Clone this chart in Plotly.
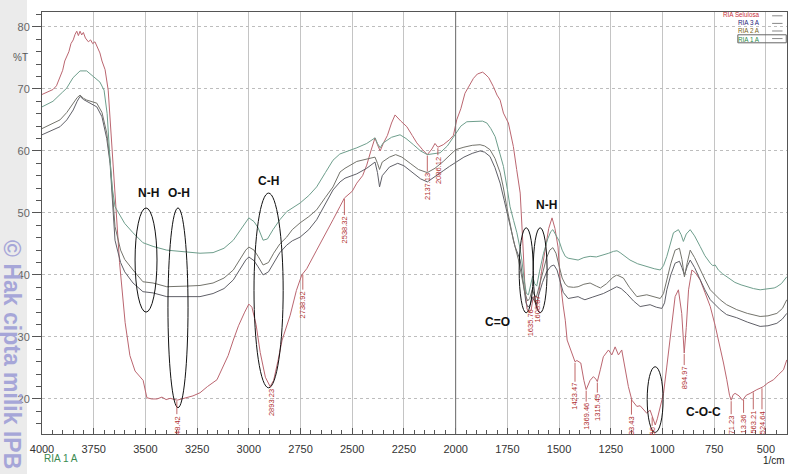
import numpy as np
import plotly.graph_objects as go

# FTIR spectra, wavenumber (1/cm) vs %T
wn_selulosa = [4000, 3970, 3947, 3930, 3913, 3900, 3890, 3881, 3870, 3860, 3849, 3840, 3832, 3824,
               3816, 3808, 3800, 3790, 3776, 3765, 3755, 3744, 3732, 3720, 3710, 3695, 3680, 3665,
               3650, 3625, 3598, 3575, 3550, 3525, 3511, 3493, 3470, 3444, 3420, 3400, 3380, 3347,
               3300, 3270, 3236, 3200, 3154, 3120, 3100, 3075, 3050, 3020, 3000, 2985, 2965, 2945,
               2920, 2897, 2880, 2860, 2839, 2800, 2770, 2744, 2720, 2672, 2630, 2593, 2560, 2538,
               2500, 2478, 2450, 2430, 2410, 2390, 2378, 2365, 2350, 2330, 2310, 2293, 2265, 2236,
               2210, 2188, 2160, 2137, 2115, 2100, 2086, 2060, 2030, 2011, 1995, 1975, 1955, 1935,
               1914, 1895, 1882, 1870, 1858, 1840, 1818, 1800, 1785, 1769, 1745, 1721, 1705, 1688,
               1675, 1665, 1655, 1645, 1635, 1625, 1615, 1608, 1598, 1585, 1565, 1550, 1534, 1520,
               1505, 1495, 1480, 1470, 1461, 1437, 1423, 1414, 1395, 1380, 1369, 1350, 1334, 1322,
               1315, 1300, 1286, 1261, 1245, 1229, 1213, 1197, 1181, 1165, 1148, 1124, 1108, 1092,
               1076, 1060, 1044, 1035, 1025, 1011, 995, 980, 963, 950, 939, 923, 907, 895, 885, 874,
               858, 840, 818, 795, 769, 745, 721, 705, 689, 676, 668, 658, 649, 630, 613, 595, 576,
               563, 544, 524, 512, 490, 463, 440, 415, 399]
t_selulosa = [69.1, 69.5, 69.9, 70.5, 72.0, 73.0, 74.5, 75.2, 76.0, 77.3, 77.9, 78.8, 79.3, 78.6,
              79.3, 78.7, 79.1, 78.2, 77.6, 77.9, 77.3, 77.6, 76.6, 75.8, 74.5, 73.1, 69.8, 62.0,
              54.0, 42.0, 32.3, 27.0, 24.5, 23.5, 23.0, 20.2, 20.0, 20.0, 20.3, 19.9, 20.1, 19.8,
              20.2, 20.5, 21.0, 22.0, 23.1, 25.5, 27.0, 29.5, 31.8, 34.0, 35.3, 34.8, 32.0, 27.5,
              23.5, 22.0, 23.0, 26.0, 29.5, 33.5, 37.5, 40.0, 41.0, 44.0, 46.5, 48.9, 51.0, 52.4,
              53.5, 54.8, 56.0, 57.7, 60.0, 62.1, 61.0, 60.0, 61.2, 62.5, 64.5, 65.8, 64.8, 63.9,
              62.5, 61.3, 60.2, 59.4, 60.3, 61.2, 60.6, 61.0, 61.8, 62.5, 65.0, 66.8, 69.3, 70.5,
              71.7, 72.4, 72.5, 72.7, 72.4, 71.8, 70.4, 69.0, 68.2, 66.1, 64.5, 60.7, 57.0, 53.2,
              45.0, 38.0, 34.5, 34.0, 34.3, 36.5, 35.5, 34.6, 37.0, 40.5, 44.5, 47.5, 49.2, 47.5,
              44.5, 39.2, 35.0, 32.7, 29.5, 27.4, 26.0, 26.2, 25.8, 23.0, 21.5, 23.0, 23.6, 23.2,
              22.8, 24.8, 26.8, 27.9, 27.1, 28.4, 27.1, 27.9, 25.2, 22.0, 19.8, 18.8, 18.9, 18.2,
              17.7, 18.2, 16.6, 15.8, 16.8, 18.5, 20.9, 25.0, 29.5, 33.0, 36.5, 37.6, 33.8, 27.4,
              31.5, 37.6, 40.8, 40.3, 39.2, 37.2, 34.9, 31.8, 28.4, 25.8, 23.1, 20.6, 19.8, 20.7,
              20.9, 20.5, 19.8, 20.6, 20.9, 21.2, 21.5, 21.8, 22.0, 22.6, 23.1, 23.9, 24.7, 26.3]

wn_ria1 = [4000, 3947, 3900, 3881, 3850, 3816, 3784, 3752, 3720, 3700, 3685, 3671, 3660, 3647, 3620,
           3600, 3560, 3512, 3463, 3397, 3300, 3236, 3173, 3120, 3075, 3040, 3015, 3000, 2975, 2955,
           2931, 2910, 2883, 2850, 2817, 2790, 2752, 2710, 2672, 2630, 2593, 2560, 2535, 2478, 2430,
           2390, 2378, 2365, 2350, 2310, 2269, 2240, 2204, 2170, 2137, 2110, 2075, 2040, 2000, 1975,
           1946, 1898, 1870, 1849, 1830, 1809, 1790, 1769, 1750, 1737, 1720, 1704, 1690, 1680, 1668,
           1658, 1648, 1638, 1628, 1618, 1608, 1595, 1575, 1555, 1540, 1530, 1515, 1500, 1485, 1470,
           1456, 1430, 1408, 1380, 1350, 1320, 1286, 1260, 1237, 1220, 1205, 1180, 1157, 1120, 1076,
           1040, 1011, 995, 979, 963, 947, 923, 910, 899, 885, 866, 845, 818, 795, 769, 757, 745,
           730, 710, 689, 650, 620, 592, 560, 528, 490, 460, 447, 425, 399]
t_ria1 = [67.1, 68.0, 69.5, 70.1, 71.8, 72.9, 72.9, 72.0, 71.1, 69.8, 66.0, 58.5, 54.0, 51.0, 49.3,
          48.3, 46.8, 45.2, 44.6, 44.0, 43.7, 43.5, 43.6, 44.3, 45.6, 47.3, 48.6, 49.2, 48.6, 47.6,
          45.6, 45.8, 47.3, 48.9, 50.2, 50.8, 51.6, 52.8, 54.2, 56.5, 58.5, 59.5, 59.8, 60.5, 61.2,
          62.1, 61.2, 60.5, 61.3, 62.2, 62.6, 62.0, 61.0, 60.0, 59.4, 59.5, 59.7, 60.8, 62.9, 64.0,
          64.7, 64.8, 64.8, 64.5, 63.6, 62.3, 60.2, 57.5, 53.8, 51.0, 48.8, 46.8, 44.5, 42.4, 39.0,
          37.0, 36.8, 38.5, 39.8, 38.6, 38.2, 40.5, 43.5, 45.8, 47.0, 47.3, 46.5, 45.5, 44.0, 43.0,
          42.7, 42.6, 42.4, 42.8, 43.0, 42.9, 43.2, 43.5, 43.8, 43.9, 43.6, 43.0, 42.4, 41.8, 41.3,
          41.0, 40.8, 41.5, 43.0, 45.0, 46.8, 47.3, 46.5, 45.4, 46.6, 47.3, 46.3, 44.6, 43.1, 41.9,
          41.5, 41.6, 40.8, 40.2, 39.7, 38.8, 38.4, 38.1, 37.8, 37.6, 37.7, 37.9, 38.1, 38.6, 39.7]

wn_ria2 = [4000, 3960, 3913, 3880, 3849, 3830, 3816, 3800, 3784, 3760, 3735, 3710, 3687, 3671, 3660,
           3647, 3620, 3600, 3560, 3512, 3463, 3397, 3300, 3236, 3173, 3120, 3075, 3040, 3015, 3000,
           2975, 2955, 2931, 2905, 2880, 2850, 2817, 2790, 2752, 2710, 2672, 2630, 2593, 2559, 2535,
           2478, 2430, 2390, 2378, 2368, 2355, 2320, 2290, 2260, 2220, 2180, 2137, 2100, 2060, 2030,
           2000, 1960, 1920, 1882, 1860, 1834, 1810, 1785, 1770, 1753, 1737, 1721, 1696, 1680, 1665,
           1652, 1642, 1630, 1620, 1610, 1598, 1580, 1560, 1545, 1530, 1515, 1500, 1485, 1470, 1456,
           1430, 1408, 1380, 1350, 1320, 1300, 1270, 1240, 1221, 1205, 1189, 1160, 1124, 1076, 1040,
           1011, 995, 979, 960, 939, 918, 906, 894, 880, 866, 845, 818, 795, 769, 745, 721, 690, 641,
           590, 528, 490, 447, 420, 399]
t_ria2 = [63.6, 64.2, 65.0, 66.2, 67.7, 68.6, 69.0, 68.5, 68.2, 68.0, 67.7, 66.2, 62.9, 58.5, 53.5,
          47.8, 44.0, 42.5, 40.8, 38.9, 38.7, 38.1, 38.2, 38.3, 38.7, 39.5, 40.8, 42.6, 44.0, 44.5,
          44.0, 43.0, 41.6, 42.0, 43.5, 45.0, 46.1, 47.3, 48.4, 49.4, 50.5, 52.5, 54.2, 56.6, 57.2,
          58.3, 58.7, 59.0, 58.0, 57.0, 58.2, 59.0, 59.4, 59.0, 58.0, 57.0, 56.5, 57.2, 58.3, 59.2,
          60.2, 60.6, 60.9, 61.0, 60.8, 60.2, 58.8, 56.5, 54.2, 51.0, 48.3, 45.6, 42.4, 39.5, 37.0,
          35.8, 36.2, 37.6, 36.8, 36.4, 38.0, 40.5, 42.8, 44.0, 44.4, 43.5, 41.5, 39.5, 38.5, 38.1,
          38.0, 38.1, 38.5, 38.7, 38.2, 37.9, 38.6, 39.6, 40.0, 39.8, 39.5, 38.0, 36.5, 36.8, 36.4,
          36.2, 37.0, 39.2, 41.8, 44.0, 44.3, 42.5, 39.7, 42.0, 44.0, 42.8, 40.8, 39.3, 37.6, 36.8,
          36.0, 35.2, 34.4, 33.8, 33.3, 33.4, 33.8, 34.6, 36.0]

wn_ria3 = [4000, 3960, 3913, 3880, 3849, 3830, 3816, 3800, 3784, 3760, 3735, 3710, 3687, 3671, 3660,
           3647, 3620, 3600, 3560, 3512, 3463, 3397, 3300, 3236, 3173, 3120, 3075, 3040, 3015, 3000,
           2975, 2955, 2931, 2905, 2880, 2850, 2817, 2790, 2752, 2710, 2672, 2630, 2593, 2559, 2535,
           2478, 2430, 2390, 2378, 2368, 2355, 2320, 2280, 2250, 2210, 2170, 2137, 2100, 2060, 2030,
           2000, 1960, 1920, 1882, 1860, 1834, 1810, 1785, 1765, 1745, 1730, 1713, 1688, 1672, 1660,
           1650, 1640, 1630, 1620, 1610, 1598, 1580, 1560, 1540, 1525, 1510, 1495, 1480, 1456, 1430,
           1408, 1390, 1375, 1340, 1286, 1250, 1221, 1200, 1173, 1140, 1108, 1060, 1030, 1003, 990,
           979, 960, 939, 918, 906, 894, 880, 866, 845, 818, 795, 769, 745, 721, 690, 641, 590, 528,
           490, 447, 420, 399]
t_ria3 = [62.6, 63.2, 63.9, 65.0, 66.6, 68.0, 68.8, 68.3, 68.0, 67.6, 67.1, 65.5, 62.0, 58.0, 52.5,
          45.6, 42.0, 40.5, 38.7, 37.3, 37.1, 36.5, 36.5, 36.5, 37.0, 37.8, 39.2, 41.0, 42.4, 42.9,
          42.3, 41.3, 40.0, 40.5, 42.0, 43.6, 44.8, 45.5, 46.1, 47.3, 48.9, 51.5, 53.7, 55.0, 55.6,
          56.3, 57.2, 58.2, 56.5, 54.2, 56.0, 57.4, 58.0, 57.6, 56.5, 55.5, 55.0, 55.8, 56.8, 57.5,
          58.2, 59.0, 59.6, 60.0, 59.8, 59.1, 57.3, 54.8, 52.0, 49.4, 47.0, 44.6, 42.4, 38.5, 35.5,
          34.8, 35.2, 36.4, 35.8, 35.3, 36.8, 38.8, 40.5, 41.4, 41.6, 40.8, 39.0, 37.2, 36.2, 36.4,
          36.5, 36.2, 36.0, 36.4, 37.0, 37.6, 38.1, 37.8, 37.0, 35.8, 34.9, 35.2, 34.8, 34.6, 35.5,
          37.6, 40.0, 41.9, 42.2, 41.2, 40.0, 41.4, 42.4, 41.2, 39.2, 37.6, 36.0, 35.2, 34.4, 33.6,
          33.1, 32.4, 31.7, 31.8, 32.2, 32.9, 33.8]

# peak labels printed on the cellulose trace (partly cut off at the bottom in the original)
peak_wn = [3348, 2893, 2739, 2538, 2137, 2086, 1640, 1606, 1423, 1369, 1315, 1150, 1050,
           895, 668, 608, 561, 519]
peak_text = ["48.42", "2893.23", "2738.92", "2538.32", "2137.13", "2086.12", "1635.76", "1608.87",
             "1423.47", "1369.46", "1315.45", "33.43", "56", "894.97", "71.23", "13.36",
             "563.21", "524.64"]
peak_offset = [25, 17, 31, 32, 32, 23, 12, 4, 35, 27, 26, 27, 15, 25, 25, 25, 31, 35]

# band assignments and the hand-drawn ellipses around them
band_text = ["N-H", "O-H", "C-H", "C=O", "N-H", "C-O-C"]
band_wn = [3483, 3337, 2907, 1800, 1563, 803]
band_t = [53.2, 53.2, 55.2, 32.4, 51.3, 17.9]
ellipse_wn = [(3550, 3444), (3391, 3294), (2975, 2834), (1693, 1625), (1625, 1558), (1074, 997)]
ellipse_t = [(34.0, 50.8), (18.6, 50.8), (21.8, 53.2), (33.9, 47.6), (33.9, 47.6), (14.6, 25.2)]

series = [
    ("RIA Selulosa", wn_selulosa, t_selulosa, "#bb6670"),
    ("RIA 3 A", wn_ria3, t_ria3, "#606068"),
    ("RIA 2 A", wn_ria2, t_ria2, "#74746c"),
    ("RIA 1 A", wn_ria1, t_ria1, "#6e9e8c"),
]
legend_colors = ["#c8303a", "#22227a", "#7a6420", "#2a8a4a"]

fig = go.Figure()
for name, wn, t, col in series:
    fig.add_trace(go.Scatter(x=wn, y=t, mode="lines", name=name,
                             line=dict(color=col, width=1), showlegend=False))

# the darker line at 2000 1/cm
fig.add_vline(x=2000, line_color="#707070", line_width=1)

for (x0, x1), (y0, y1) in zip(ellipse_wn, ellipse_t):
    fig.add_shape(type="circle", xref="x", yref="y", x0=x0, x1=x1, y0=y0, y1=y1,
                  line=dict(color="#111111", width=1))

for txt, x, y in zip(band_text, band_wn, band_t):
    fig.add_annotation(x=x, y=y, text="<b>%s</b>" % txt, showarrow=False,
                       font=dict(family="Arial", size=12, color="#111111"))

t_at_peak = np.interp(peak_wn[::-1], wn_selulosa[::-1], t_selulosa[::-1])[::-1]
for x, y, txt, off in zip(peak_wn, t_at_peak, peak_text, peak_offset):
    fig.add_annotation(x=x, y=y, text=txt, textangle=-90, showarrow=True, arrowhead=0,
                       arrowwidth=0.8, arrowcolor="#b04040", ax=0, ay=off, standoff=1,
                       font=dict(family="Arial", size=7.5, color="#b03030"))

# legend drawn like the instrument printout: text, then a short line sample
legend_y = [0.991, 0.973, 0.955, 0.937]
legend_html = "<br>".join("<span style='color:%s'>%s</span>" % (lc, s[0])
                          for s, lc in zip(series, legend_colors))
fig.add_annotation(xref="paper", yref="paper", x=0.966, y=0.964, text=legend_html,
                   showarrow=False, xanchor="right", yanchor="middle", align="right",
                   font=dict(family="Arial", size=6.3, color="#333333"))
for ly in legend_y:
    fig.add_shape(type="line", xref="paper", yref="paper", x0=0.98, x1=0.994, y0=ly, y1=ly,
                  line=dict(color="#888888", width=1))
fig.add_shape(type="rect", xref="paper", yref="paper", x0=0.934, x1=0.999, y0=0.927, y1=0.946,
              line=dict(color="#666666", width=1))

# grey strip and IPB watermark at the left edge
fig.add_shape(type="rect", xref="paper", yref="paper", x0=-0.0564, x1=-0.0201, y0=-0.095,
              y1=1.029, fillcolor="#ebebeb", line=dict(width=0), layer="below")
fig.add_annotation(xref="paper", yref="paper", x=-0.0403, y=0.187,
                   text="<b>© Hak cipta milik IPB</b>", textangle=90, showarrow=False,
                   xanchor="center", yanchor="middle",
                   font=dict(family="Arial", size=23, color="#a6a6d8"))

fig.add_annotation(xref="paper", yref="paper", x=-0.0295, y=0.893, text="%T", showarrow=False,
                   xanchor="center", yanchor="middle",
                   font=dict(family="Arial", size=10, color="#555555"))
fig.add_annotation(xref="paper", yref="paper", x=0.0, y=-0.059, text="RIA 1 A", showarrow=False,
                   xanchor="left", yanchor="middle",
                   font=dict(family="Arial", size=10, color="#3a8a50"))
fig.add_annotation(xref="paper", yref="paper", x=1.0, y=-0.062, text="1/cm", showarrow=False,
                   xanchor="right", yanchor="middle",
                   font=dict(family="Arial", size=10, color="#222222"))

fig.update_layout(
    width=796, height=474,
    margin=dict(l=42, r=9, t=12, b=40),
    paper_bgcolor="white", plot_bgcolor="white",
    xaxis=dict(range=[4000, 398], tick0=500, dtick=250, showgrid=True, gridcolor="#c4c4c4",
               gridwidth=1, ticks="inside", ticklen=6, tickcolor="#555555",
               minor=dict(dtick=50, ticks="inside", ticklen=4, tickcolor="#555555", showgrid=False),
               showline=True, mirror=True, linecolor="#555555", linewidth=1, zeroline=False,
               ticklabelstandoff=5,
               tickfont=dict(family="Arial", size=11, color="#333333")),
    yaxis=dict(range=[14.35, 82.4], tick0=0, dtick=10, showgrid=True, gridcolor="#bdbdbd",
               griddash="dot", ticks="outside", ticklen=9, tickcolor="#555555",
               minor=dict(dtick=2, ticks="outside", ticklen=5, tickcolor="#555555", showgrid=False),
               showline=True, mirror=True, linecolor="#555555", linewidth=1, zeroline=False,
               tickfont=dict(family="Arial", size=11, color="#666666")),
)

fig.write_html("out.html", config={"displayModeBar": False},
               post_script="document.body.style.margin = '0';")
